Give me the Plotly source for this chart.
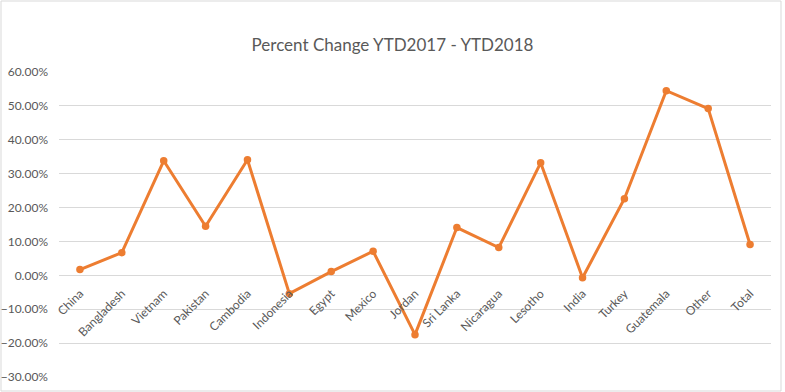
import plotly.graph_objects as go

categories = ["China", "Bangladesh", "Vietnam", "Pakistan", "Cambodia", "Indonesia",
              "Egypt", "Mexico", "Jordan", "Sri Lanka", "Nicaragua", "Lesotho",
              "India", "Turkey", "Guatemala", "Other", "Total"]
pct_change = [0.017, 0.067, 0.338, 0.145, 0.341, -0.054, 0.011, 0.071, -0.175,
              0.141, 0.082, 0.332, -0.007, 0.226, 0.545, 0.492, 0.091]
y_ticks = [-0.3, -0.2, -0.1, 0.0, 0.1, 0.2, 0.3, 0.4, 0.5, 0.6]

W, H = 785, 392
ML, MR, MT, MB = 59, 14, 72, 15
PW, PH = W - ML - MR, H - MT - MB
YMIN, YMAX = -0.3, 0.6

fig = go.Figure()
fig.add_trace(go.Scatter(
    x=categories, y=pct_change, mode="lines+markers",
    line=dict(color="#ED7D31", width=3),
    marker=dict(color="#ED7D31", size=7.5),
    hoverinfo="x+y",
))

font_fam = "Lato, Roboto, Arial"
zero_pos = (0 - YMIN) / (YMAX - YMIN)

fig.update_layout(
    width=W, height=H,
    margin=dict(l=ML, r=MR, t=MT, b=MB, autoexpand=False),
    paper_bgcolor="white", plot_bgcolor="white",
    showlegend=False,
    title=dict(text="Percent Change YTD2017 - YTD2018", x=0.5, xanchor="center",
               y=1 - 45 / H, yanchor="middle",
               font=dict(family=font_fam, size=17, color="#595959")),
    xaxis=dict(type="category", range=[-0.5, len(categories) - 0.5],
               showgrid=False, showline=False, zeroline=False, ticks="",
               tickangle=-45, anchor="free", position=zero_pos,
               ticklabelstandoff=8,
               tickfont=dict(family=font_fam, size=12, color="#595959"),
               automargin=False),
    yaxis=dict(range=[YMIN, YMAX], tickvals=y_ticks, tickformat=".2%",
               showgrid=True, gridcolor="#D9D9D9", gridwidth=1,
               zeroline=False, showline=False, ticks="",
               ticklabelstandoff=10,
               tickfont=dict(family=font_fam, size=12, color="#595959"),
               automargin=False),
    shapes=[dict(type="rect", xref="paper", yref="paper",
                 x0=(1 - ML) / PW, x1=(781 - ML) / PW,
                 y0=-(391 - (MT + PH)) / PH, y1=1 + (MT - 1) / PH,
                 line=dict(color="#D9D9D9", width=1), layer="below")],
)

fig.write_html("out.html", config={"displayModeBar": False},
               post_script="document.body.style.margin='0';")
